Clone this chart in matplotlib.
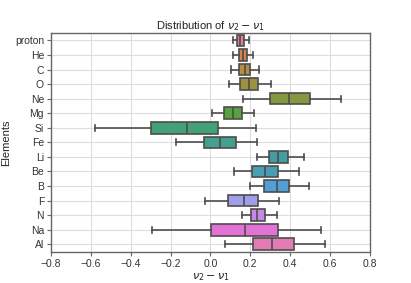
import matplotlib
matplotlib.use('Agg')
import matplotlib.pyplot as plt
import seaborn as sns

# Box statistics (whisker low, q1, median, q3, whisker high)
labels = ['proton', 'He', 'C', 'O', 'Ne', 'Mg', 'Si', 'Fe',
          'Li', 'Be', 'B', 'F', 'N', 'Na', 'Al']
whislo = [0.112, 0.115, 0.105, 0.094, 0.161, 0.010, -0.580, -0.171,
          0.236, 0.120, 0.201, -0.028, 0.156, -0.293, 0.074]
q1 = [0.134, 0.142, 0.142, 0.149, 0.299, 0.070, -0.296, -0.033,
      0.294, 0.207, 0.269, 0.089, 0.204, 0.002, 0.216]
med = [0.149, 0.161, 0.171, 0.194, 0.395, 0.114, -0.120, 0.048,
       0.341, 0.274, 0.333, 0.169, 0.236, 0.172, 0.309]
q3 = [0.166, 0.182, 0.197, 0.239, 0.500, 0.156, 0.038, 0.127,
      0.390, 0.339, 0.396, 0.239, 0.274, 0.341, 0.420]
whishi = [0.191, 0.214, 0.244, 0.306, 0.657, 0.219, 0.227, 0.236,
          0.470, 0.446, 0.492, 0.344, 0.333, 0.557, 0.574]
xticks = [-0.8, -0.6, -0.4, -0.2, 0.0, 0.2, 0.4, 0.6, 0.8]

plt.rcParams['font.family'] = ['Liberation Sans', 'DejaVu Sans']
plt.rcParams['mathtext.fontset'] = 'dejavusans'

fig = plt.figure(figsize=(4.11, 2.83), dpi=100)
ax = fig.add_axes([0.124, 0.111, 0.776, 0.772])

colors = sns.color_palette('husl', len(labels), desat=0.75)
line_col = '#4d4d4d'

stats = []
for i, name in enumerate(labels):
    stats.append(dict(label=name, whislo=whislo[i], q1=q1[i], med=med[i],
                      q3=q3[i], whishi=whishi[i], fliers=[]))

positions = list(range(len(labels)))
bp = ax.bxp(stats, positions=positions, widths=0.8, orientation='horizontal',
            patch_artist=True, showfliers=False,
            boxprops=dict(edgecolor=line_col, linewidth=1.2),
            medianprops=dict(color=line_col, linewidth=1.2),
            whiskerprops=dict(color=line_col, linewidth=1.2),
            capprops=dict(color=line_col, linewidth=1.2))
for patch, c in zip(bp['boxes'], colors):
    patch.set_facecolor(c)
# caps a bit shorter than the box, like seaborn
for cap in bp['caps']:
    yd = cap.get_ydata()
    mid = (yd[0] + yd[1]) / 2
    cap.set_ydata([mid - 0.21, mid + 0.21])

ax.set_ylim(len(labels) - 0.5, -0.5)
ax.set_xlim(-0.8, 0.8)
ax.set_yticks(positions)
ax.set_yticklabels(labels)
ax.set_xticks(xticks)
ax.set_xticklabels([f'{t:.1f}'.replace('-', '\u2212') for t in xticks])

ax.grid(True, color='#dddddd', linewidth=0.8)
ax.set_axisbelow(True)
for s in ax.spines.values():
    s.set_color('#666666')
    s.set_linewidth(1.0)
ax.tick_params(axis='both', labelsize=7.5, labelcolor='#333333', color='#666666',
               length=3, width=0.8, pad=2)

ax.set_title(r'Distribution of $\nu_2 - \nu_1$', fontsize=8, color='#222222', pad=3)
ax.set_xlabel(r'$\nu_2 - \nu_1$', fontsize=8, color='#222222', labelpad=2)
ax.set_ylabel('Elements', fontsize=8, color='#222222', labelpad=3)

fig.savefig('out.png', dpi=100)
